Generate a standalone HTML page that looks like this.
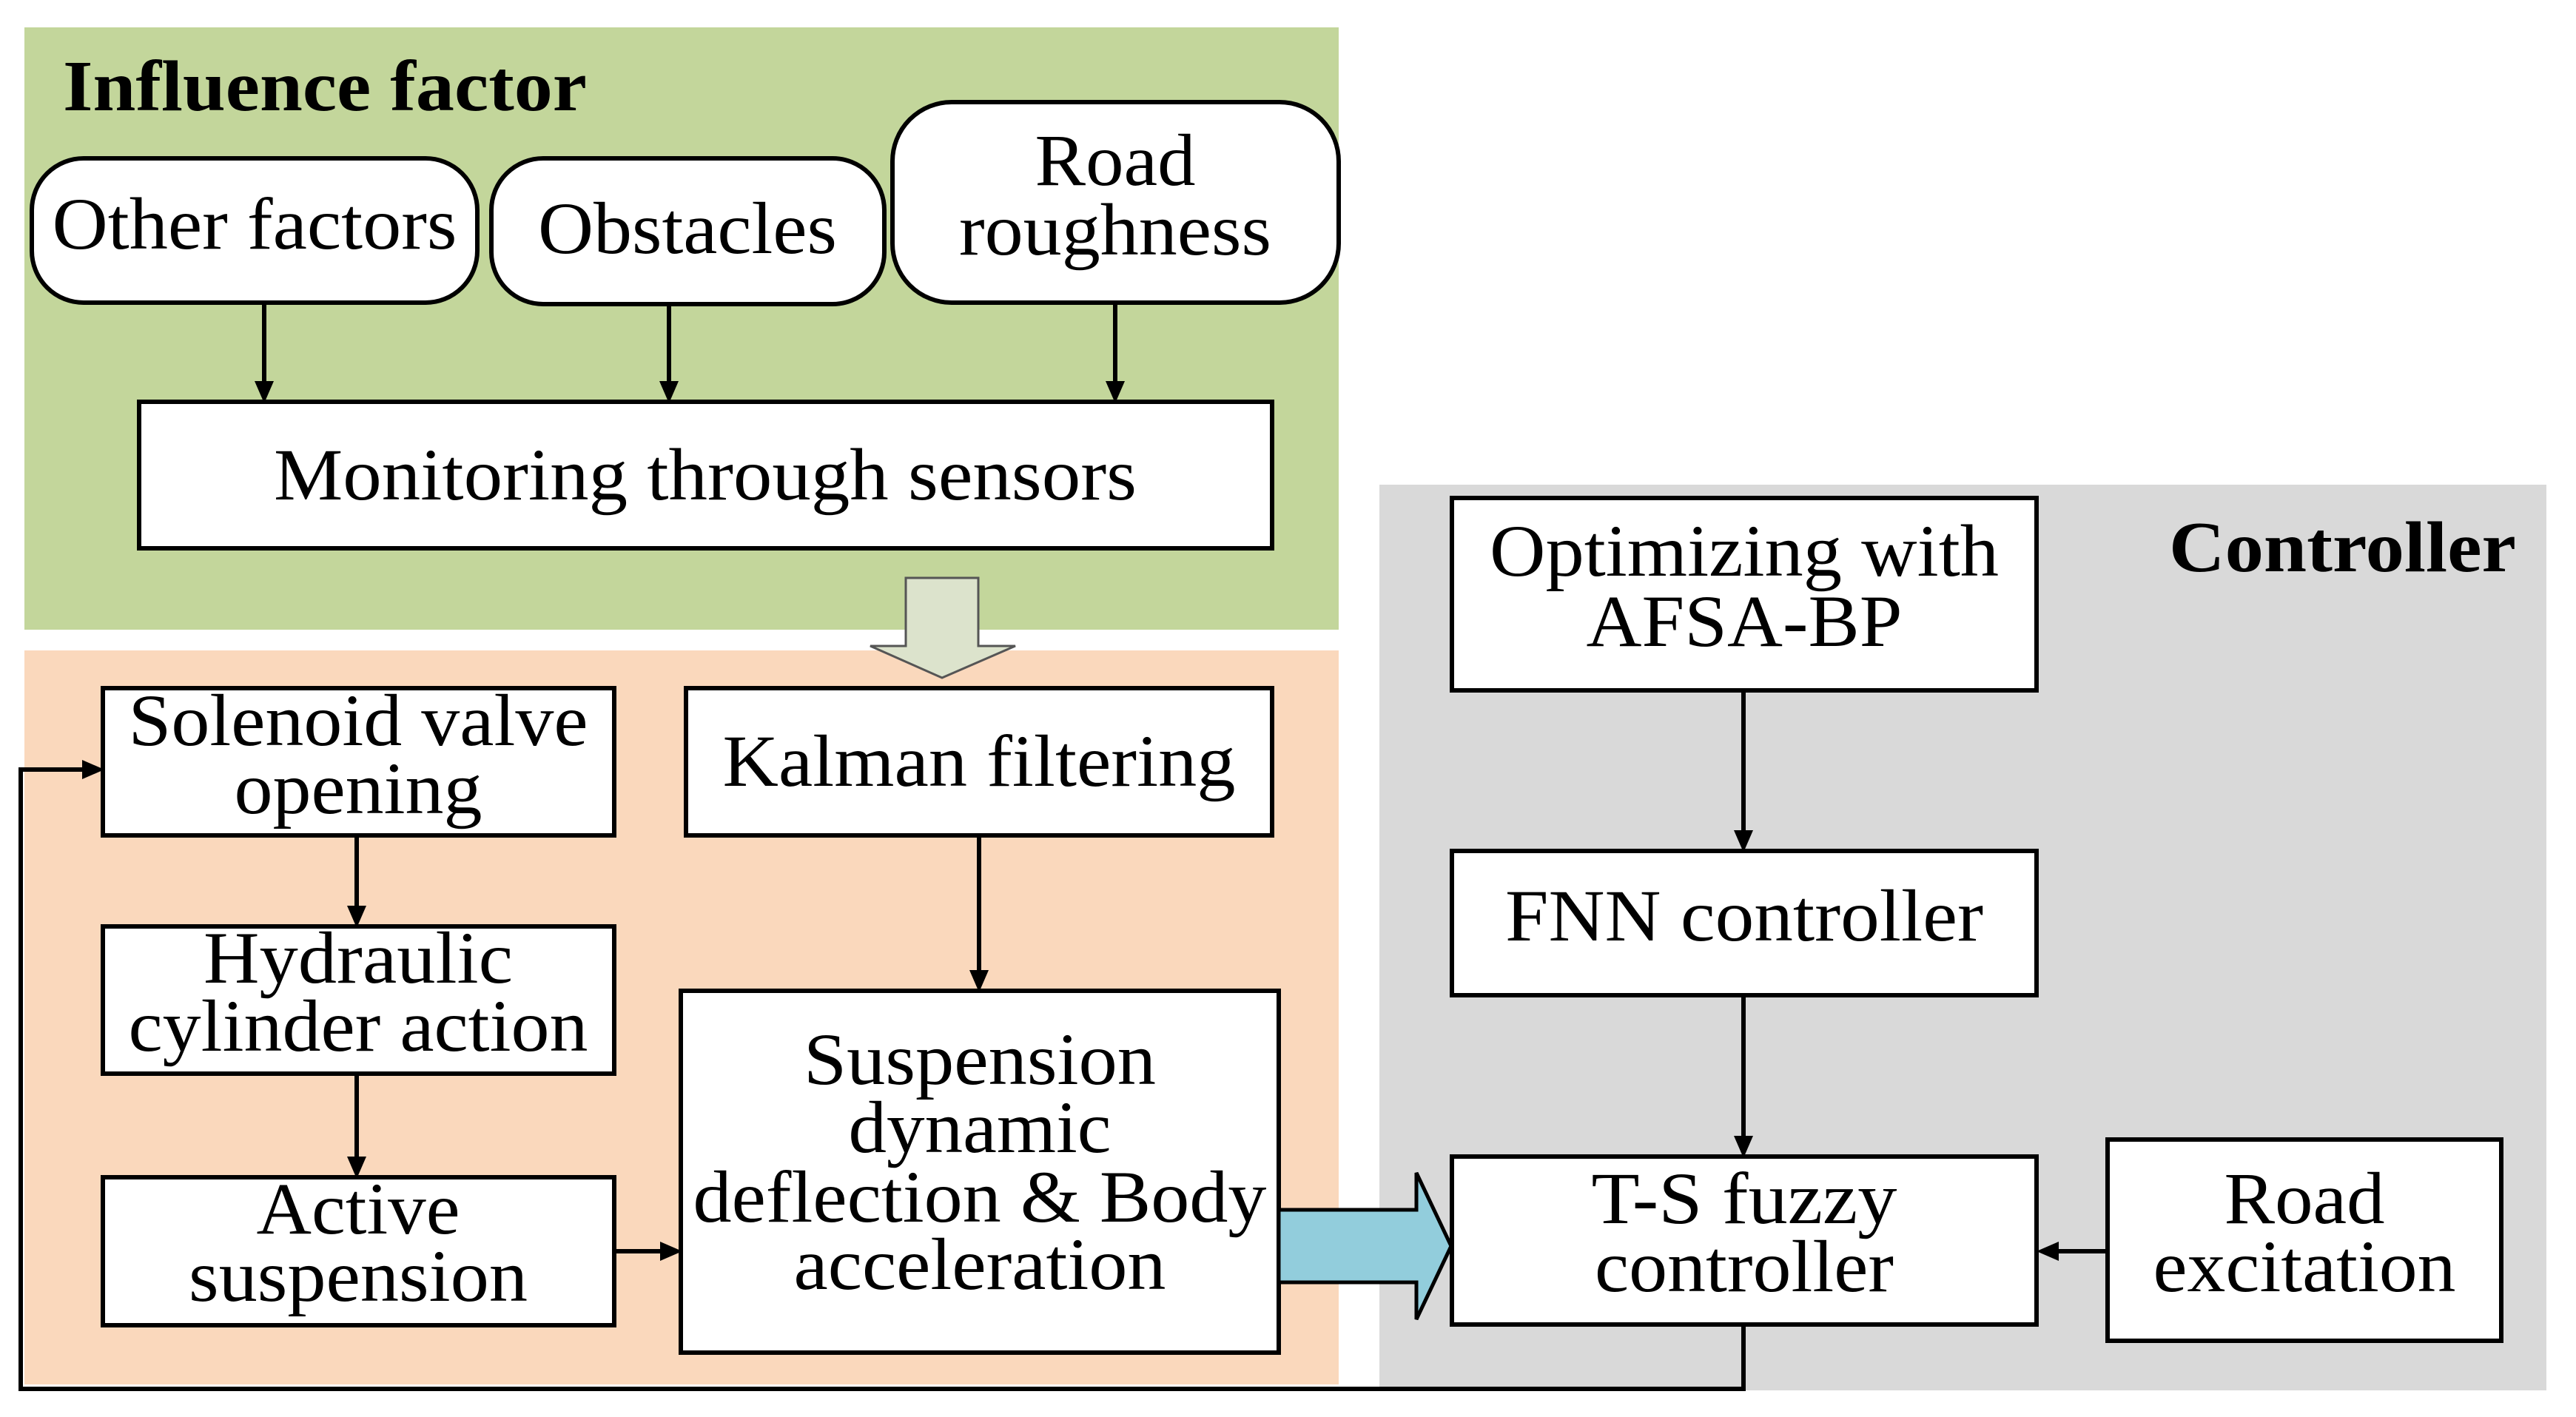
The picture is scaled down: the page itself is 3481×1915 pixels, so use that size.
<!DOCTYPE html>
<html><head><meta charset="utf-8"><style>
html,body{margin:0;padding:0;background:#fff;}
svg{display:block;}
text{font-family:"Liberation Serif",serif;font-size:100px;fill:#000;}
.b{font-weight:bold;font-size:98px;}
</style></head><body>
<svg width="3481" height="1915" viewBox="0 0 3481 1915" xmlns="http://www.w3.org/2000/svg">
<!-- panels -->
<rect x="33" y="37" width="1776" height="814" fill="#C3D69B"/>
<rect x="33" y="879" width="1776" height="992" fill="#FAD8BC"/>
<rect x="1864" y="655" width="1577" height="1224" fill="#D9D9D9"/>

<g stroke="#000" stroke-width="6" fill="#fff">
<rect x="43" y="214" width="602" height="195" rx="70"/>
<rect x="664" y="214" width="531" height="197" rx="70"/>
<rect x="1206" y="138" width="603" height="271" rx="80"/>
<rect x="188" y="543" width="1531" height="198"/>
<rect x="139" y="930" width="691" height="199"/>
<rect x="139" y="1252" width="691" height="199"/>
<rect x="139" y="1591" width="691" height="200"/>
<rect x="927" y="930" width="792" height="199"/>
<rect x="920" y="1339" width="808" height="489"/>
<rect x="1962" y="673" width="790" height="260"/>
<rect x="1962" y="1150" width="790" height="195"/>
<rect x="1962" y="1563" width="790" height="227"/>
<rect x="2848" y="1540" width="532" height="272"/>
</g>

<!-- connector lines -->
<g stroke="#000" stroke-width="6" fill="none">
<line x1="357" y1="409" x2="357" y2="515"/>
<line x1="904" y1="411" x2="904" y2="515"/>
<line x1="1507" y1="409" x2="1507" y2="515"/>
<line x1="482" y1="1129" x2="482" y2="1224"/>
<line x1="482" y1="1451" x2="482" y2="1563"/>
<line x1="1323" y1="1129" x2="1323" y2="1311"/>
<line x1="830" y1="1691" x2="892" y2="1691"/>
<line x1="2356" y1="933" x2="2356" y2="1122"/>
<line x1="2356" y1="1345" x2="2356" y2="1535"/>
<line x1="2848" y1="1691" x2="2780" y2="1691"/>
<polyline points="2356,1790 2356,1877 28,1877 28,1040 112,1040"/>
</g>
<!-- arrowheads -->
<g fill="#000">
<polygon points="344,515 370,515 357,545"/>
<polygon points="891,515 917,515 904,545"/>
<polygon points="1494,515 1520,515 1507,545"/>
<polygon points="469,1224 495,1224 482,1254"/>
<polygon points="469,1563 495,1563 482,1593"/>
<polygon points="1310,1311 1336,1311 1323,1341"/>
<polygon points="892,1678 892,1704 922,1691"/>
<polygon points="2343,1122 2369,1122 2356,1152"/>
<polygon points="2343,1535 2369,1535 2356,1565"/>
<polygon points="2782,1678 2782,1704 2752,1691"/>
<polygon points="111,1027 111,1053 141,1040"/>
</g>

<!-- hollow arrow -->
<polygon points="1224,781 1322,781 1322,873 1372,873 1273,916 1176,873 1224,873" fill="#DCE3CC" stroke="#555" stroke-width="3"/>
<!-- blue arrow -->
<polygon points="1728,1635 1914,1635 1914,1585 1961,1684 1914,1783 1914,1733 1728,1733" fill="#92CDDC" stroke="#000" stroke-width="5"/>

<!-- text -->
<text class="b" x="85" y="149" textLength="708" lengthAdjust="spacingAndGlyphs">Influence factor</text>
<text class="b" x="2931" y="772" textLength="469" lengthAdjust="spacingAndGlyphs">Controller</text>
<g text-anchor="middle">
<text x="344" y="336" textLength="547" lengthAdjust="spacingAndGlyphs">Other factors</text>
<text x="929" y="342" textLength="404" lengthAdjust="spacingAndGlyphs">Obstacles</text>
<text x="1507" y="250" textLength="217" lengthAdjust="spacingAndGlyphs">Road</text>
<text x="1507" y="344" textLength="422" lengthAdjust="spacingAndGlyphs">roughness</text>
<text x="953" y="675" textLength="1166" lengthAdjust="spacingAndGlyphs">Monitoring through sensors</text>
<text x="484" y="1007" textLength="621" lengthAdjust="spacingAndGlyphs">Solenoid valve</text>
<text x="484" y="1099" textLength="335" lengthAdjust="spacingAndGlyphs">opening</text>
<text x="484" y="1328" textLength="418" lengthAdjust="spacingAndGlyphs">Hydraulic</text>
<text x="484" y="1420" textLength="621" lengthAdjust="spacingAndGlyphs">cylinder action</text>
<text x="484" y="1667" textLength="275" lengthAdjust="spacingAndGlyphs">Active</text>
<text x="484" y="1758" textLength="458" lengthAdjust="spacingAndGlyphs">suspension</text>
<text x="1323" y="1062" textLength="693" lengthAdjust="spacingAndGlyphs">Kalman filtering</text>
<text x="1324" y="1465" textLength="476" lengthAdjust="spacingAndGlyphs">Suspension</text>
<text x="1324" y="1557" textLength="355" lengthAdjust="spacingAndGlyphs">dynamic</text>
<text x="1324" y="1651" textLength="775" lengthAdjust="spacingAndGlyphs">deflection &amp; Body</text>
<text x="1324" y="1742" textLength="503" lengthAdjust="spacingAndGlyphs">acceleration</text>
<text x="2357" y="778" textLength="688" lengthAdjust="spacingAndGlyphs">Optimizing with</text>
<text x="2357" y="873" textLength="427" lengthAdjust="spacingAndGlyphs">AFSA-BP</text>
<text x="2357" y="1271" textLength="646" lengthAdjust="spacingAndGlyphs">FNN controller</text>
<text x="2357" y="1653" textLength="413" lengthAdjust="spacingAndGlyphs">T-S fuzzy</text>
<text x="2357" y="1745" textLength="404" lengthAdjust="spacingAndGlyphs">controller</text>
<text x="3114" y="1653" textLength="217" lengthAdjust="spacingAndGlyphs">Road</text>
<text x="3114" y="1745" textLength="409" lengthAdjust="spacingAndGlyphs">excitation</text>
</g>
</svg>
</body></html>
